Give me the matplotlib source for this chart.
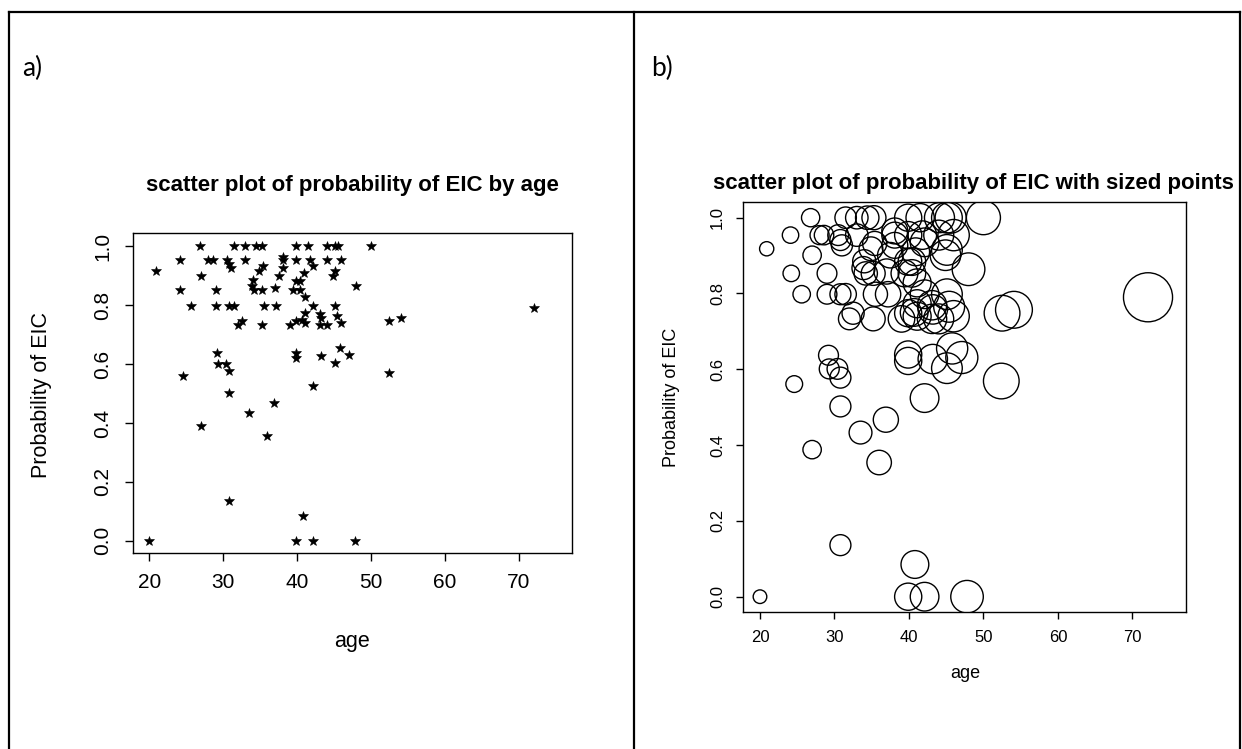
import matplotlib
matplotlib.use("Agg")
import matplotlib.pyplot as plt
from matplotlib.lines import Line2D
import numpy as np

# ---- data: (age, probability of EIC) ----
age = [26.8, 31.5, 33.0, 34.4, 35.3, 39.9, 41.5, 44.1, 45.1, 45.6, 50.0,
       24.1, 28.0, 28.6, 30.5, 33.0, 38.1, 38.1, 39.9, 41.8, 44.0, 46.0,
       30.8, 31.0, 35.4, 34.9, 38.1, 42.1, 20.9, 27.0, 37.5, 44.9, 40.9, 45.1,
       39.9, 40.4, 34.0, 33.9, 24.2, 29.0, 34.2, 35.2, 39.4, 40.4, 37.0, 48.0,
       41.1, 25.6, 29.0, 30.8, 31.5, 35.5, 37.2, 42.1, 45.1,
       41.1, 43.1, 43.2, 45.4, 32.5, 39.9, 40.7,
       32.0, 35.2, 39.0, 43.1, 44.0, 41.1, 46.0, 72.1, 52.5, 54.1,
       29.2, 29.3, 30.4, 30.8, 39.9, 39.9, 43.2, 45.8, 45.1, 47.1,
       24.6, 42.1, 30.8, 52.4, 36.9, 33.5, 27.0, 36.0, 30.8, 40.8,
       20.0, 39.9, 42.1, 47.8]
prob = [1.0, 1.0, 1.0, 1.0, 1.0, 1.0, 1.0, 1.0, 1.0, 1.0, 1.0,
        0.954, 0.954, 0.954, 0.954, 0.954, 0.954, 0.965, 0.954, 0.954, 0.954, 0.954,
        0.941, 0.927, 0.932, 0.918, 0.927, 0.935, 0.918, 0.901, 0.901, 0.901, 0.910, 0.915,
        0.884, 0.884, 0.885, 0.867, 0.853, 0.853, 0.853, 0.853, 0.853, 0.853, 0.858, 0.864,
        0.828, 0.798, 0.798, 0.798, 0.798, 0.798, 0.798, 0.798, 0.798,
        0.773, 0.769, 0.758, 0.765, 0.748, 0.748, 0.750,
        0.733, 0.733, 0.733, 0.733, 0.733, 0.740, 0.740, 0.790, 0.748, 0.757,
        0.637, 0.601, 0.601, 0.578, 0.639, 0.622, 0.627, 0.655, 0.603, 0.631,
        0.561, 0.524, 0.502, 0.569, 0.467, 0.433, 0.388, 0.354, 0.136, 0.085,
        0.0, 0.0, 0.0, 0.0]

xticks = [20, 30, 40, 50, 60, 70]
yticks = [0.0, 0.2, 0.4, 0.6, 0.8, 1.0]
ytick_labels = ["0.0", "0.2", "0.4", "0.6", "0.8", "1.0"]

W, H = 1242, 749
fig = plt.figure(figsize=(W / 100, H / 100), dpi=100)
fig.patch.set_facecolor("white")

NARROW = ["Liberation Sans Narrow", "Liberation Sans", "DejaVu Sans"]
SANS = ["Liberation Sans", "DejaVu Sans"]


def fx(x):
    return x / W


def fy(y):
    return 1 - y / H


def rect(x0, y0, x1, y1):
    return [fx(x0), fy(y1), fx(x1) - fx(x0), fy(y0) - fy(y1)]


# ---- table borders ----
lw_b = 1.6
for x in (9, 634, 1240):
    fig.add_artist(Line2D([fx(x), fx(x)], [fy(12), fy(749)], color="black", lw=lw_b,
                          transform=fig.transFigure))
fig.add_artist(Line2D([fx(9), fx(1240)], [fy(12), fy(12)], color="black", lw=lw_b,
                      transform=fig.transFigure))

fig.text(fx(22), fy(68), "a)", fontsize=19, family=["Lato", "DejaVu Sans"], va="center", ha="left")
fig.text(fx(651), fy(68), "b)", fontsize=19, family=["Lato", "DejaVu Sans"], va="center", ha="left")


def style_axes(ax, fs, ticklen, pad_x, pad_y):
    for s in ax.spines.values():
        s.set_linewidth(1.0)
        s.set_color("black")
    ax.set_xticks(xticks)
    ax.set_yticks(yticks)
    ax.set_yticklabels(ytick_labels, rotation=90, va="center")
    ax.tick_params(axis="both", direction="out", length=ticklen, width=1.0, labelsize=fs)
    ax.tick_params(axis="x", pad=pad_x)
    ax.tick_params(axis="y", pad=pad_y)
    for lab in ax.get_xticklabels() + ax.get_yticklabels():
        lab.set_family(SANS)


# ---- panel a ----
ax1 = fig.add_axes(rect(132.7, 233.3, 571.7, 553.3))
ax1.plot(age, prob, linestyle="none", marker="*", markersize=7, color="black",
         markeredgewidth=0.4)
ax1.set_xlim(17.75, 77.2)
ax1.set_ylim(-0.043, 1.0445)
style_axes(ax1, 15, 5.5, 9, 9)
fig.text(fx(352), fy(186), "scatter plot of probability of EIC by age", fontsize=16,
         fontweight="bold", family=NARROW, ha="center", va="center")
fig.text(fx(352), fy(642), "age", fontsize=15.5, family=SANS, ha="center", va="center")
fig.text(fx(42), fy(395), "Probability of EIC", fontsize=15.5, family=SANS, ha="center",
         va="center", rotation=90)

# ---- panel b ----
ax2 = fig.add_axes(rect(743.3, 202.3, 1186, 611.7))
sizes = [(0.49 * a) ** 2 for a in age]
ax2.scatter(age, prob, s=sizes, facecolors="none", edgecolors="black", linewidths=1.0)
ax2.set_xlim(17.76, 77.2)
ax2.set_ylim(-0.0396, 1.0406)
style_axes(ax2, 12, 5, 8, 8)
fig.text(fx(973), fy(183), "scatter plot of probability of EIC with sized points", fontsize=16,
         fontweight="bold", family=NARROW, ha="center", va="center")
fig.text(fx(965), fy(674), "age", fontsize=13, family=SANS, ha="center", va="center")
fig.text(fx(672), fy(397), "Probability of EIC", fontsize=13, family=SANS, ha="center",
         va="center", rotation=90)

fig.savefig("out.png", dpi=100)
